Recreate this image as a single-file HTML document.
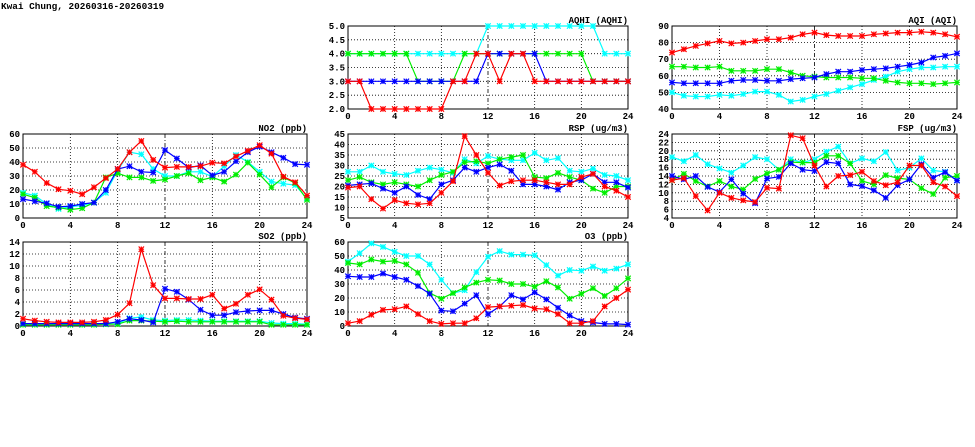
<!DOCTYPE html>
<html><head><meta charset="utf-8"><style>
html,body{margin:0;padding:0;background:#fff;}
svg{display:block;}
text{font-family:"Liberation Mono",monospace;font-weight:bold;font-size:9px;fill:#000;}
</style></head><body>
<svg id="chart" width="975" height="447" viewBox="0 0 975 447" xmlns="http://www.w3.org/2000/svg">
<text x="1" y="9" style="font-size:9.4px">Kwai Chung, 20260316-20260319</text>
</svg>
<script>
const hours = [0,1,2,3,4,5,6,7,8,9,10,11,12,13,14,15,16,17,18,19,20,21,22,23,24];
const xTickLabels = ["0","4","8","12","16","20","24"];

const aqhiRed   = [3,3,2,2,2,2,2,2,2,3,3,4,4,3,4,4,3,3,3,3,3,3,3,3,3];
const aqhiBlue  = [3,3,3,3,3,3,3,3,3,3,3,3,4,4,4,4,4,3,3,3,3,3,3,3,3];
const aqhiGreen = [4,4,4,4,4,4,3,3,3,3,4,4,4,4,4,4,4,4,4,4,4,3,3,3,3];
const aqhiCyan  = [4,4,4,4,4,4,4,4,4,4,4,4,5,5,5,5,5,5,5,5,5,5,4,4,4];
const aqhiTicks = ["2.0","2.5","3.0","3.5","4.0","4.5","5.0"];

const aqiRed   = [74,76,78,79.5,81,79.5,80,81,82,82,83,85,86,84.5,84,84,84,85,85.5,86,86,86.5,86,85,83.5];
const aqiGreen = [65.5,65.5,65,65,65.5,63,63,63,64,64,62,60,59.5,59,59,59,58.5,58.5,57,56,55.5,55.5,55,55.5,56];
const aqiBlue  = [56,55.5,55.5,55.5,55.5,57,57.5,57.5,57,57,58,58.5,59,61,62.5,62.5,63.5,64,64.5,65.5,66.5,68,71,72,73.5];
const aqiCyan  = [50,48,47.5,47.5,48.5,48,49,50.5,50.5,48.5,44.5,45.5,47.5,49,51,53,55,57.5,59.5,62.5,64,65,65,65.5,65.5];
const aqiTicks = ["40","50","60","70","80","90"];

const no2Red   = [38,33,25,20.5,19.5,17,22,28.5,35,47,55,41.5,36,36.5,36.5,37,39.5,39,44,48,52,46,29.5,25.5,16];
const no2Cyan  = [18,16,10,6.5,8,9,11,18,34,47,45.5,35,30,30,33,33,29.5,37,45,40,33,26,24.5,23.5,14];
const no2Blue  = [13.5,12,10.5,8,8.5,10,11,20,35,37,33,32.5,48.5,42.5,36,37.5,30.5,33,40.5,47,51,47,43,38.5,38];
const no2Green = [17,14.5,8.5,7.5,6,7,11,29,32,29,29,26.5,27.5,30,32,27,29,26,31,39.5,31,22,29,25,13];
const no2Ticks = ["0","10","20","30","40","50","60"];

const rspRed   = [19.5,20,14,9.5,13.5,12,11.5,12,17,22.5,44,35,26.5,20.5,22.5,23,23,22,21,21,24.5,26,20,18,15];
const rspCyan  = [27,27,30,27,26,25.5,27.5,29,28,26.5,33,31,34.5,33,32.5,32.5,36,32.5,33.5,27.5,27,28.5,25.5,25,23];
const rspGreen = [23,24.5,22,21,22,21,20,23,25.5,27,31.5,32,31,33,34,35,24.5,24,26.5,24.5,23,19,17,20,20];
const rspBlue  = [20.5,21,21.5,19,17,20,16,14,21,23,29,27,29,30.5,27.5,21,21,20,18.5,22,23,26,22,22,19.5];
const rspTicks = ["5","10","15","20","25","30","35","40","45"];

const fspRed   = [13,13.5,9.2,5.8,10,8.8,8.2,7.8,11.2,11,23.7,23,16.5,11.5,14,14.2,15,12.8,11.8,12.5,16.5,16.5,12.5,11.5,9.2];
const fspCyan  = [18.5,17.5,19,16.8,15.8,14.8,16.5,18.5,18,15.5,18,17.2,18,19.8,21,17,18.2,17.5,19.7,15.3,16,18.2,15.3,15,13];
const fspGreen = [13,14.5,12.8,11.5,12.8,11.5,10.8,13.3,14.6,15.5,17.3,17.2,17.2,18.8,18.8,17,12.8,12,14.2,13.5,13.2,11.1,9.7,13.6,14];
const fspBlue  = [14,13.2,14,11.4,10.2,13.2,9.8,7.5,13.4,13.8,17,15.5,15.2,17.3,17,12,11.6,10.6,8.8,11.8,13.2,16.8,13.6,14.9,12.9];
const fspTicks = ["4","6","8","10","12","14","16","18","20","22","24"];

const so2Red   = [1.2,0.9,0.7,0.6,0.6,0.6,0.7,1,1.9,3.8,12.8,6.8,4.6,4.6,4.5,4.5,5.2,2.9,3.7,5.2,6.1,4.4,1.7,1.3,1.1];
const so2Blue  = [0.4,0.4,0.4,0.4,0.4,0.4,0.4,0.4,0.7,1.2,1.0,0.6,6.2,5.7,4.4,2.7,1.8,1.8,2.3,2.5,2.6,2.6,2.0,1.4,1.2];
const so2Cyan  = [0.3,0.3,0.3,0.3,0.3,0.3,0.3,0.3,0.4,1.3,1.5,1.0,0.9,1.0,1.0,0.9,0.8,0.8,0.8,0.8,0.8,0.5,0.4,0.4,0.3];
const so2Green = [0.2,0.2,0.2,0.2,0.2,0.2,0.2,0.3,0.3,0.9,0.9,0.8,0.7,0.8,0.7,0.7,0.7,0.7,0.7,0.7,0.7,0.2,0.2,0.2,0.2];
const so2Ticks = ["0","2","4","6","8","10","12","14"];

const o3Cyan  = [46,52,59,56.5,53,50,50,44,33,23.5,25.5,38.5,49.5,53.5,51,51,50.5,43.5,36,40,39.5,42.5,39.5,41,44];
const o3Green = [45,44,47.5,46,46.5,44,38,23.5,19.5,23.5,27.5,31,33,32.5,30,30,28,32,27.5,19.5,23,27,21.5,27,34];
const o3Blue  = [35.5,35,35,37.5,35,33,28.5,23,11,10.5,16,22,8.5,14,22,19,24,19,13,7.5,3.5,2.5,1.5,1.5,1];
const o3Red   = [2,3.5,8,11.5,12,14,8.5,3.5,1.5,2,2,5.5,13.5,14,14.5,15,12.5,12,8.5,2,2,3.5,14,20,26];
const o3Ticks = ["0","10","20","30","40","50","60"];

const svg = document.getElementById('chart');
const NS = 'http://www.w3.org/2000/svg';
function mk(tag, attrs, parent){
  const e = document.createElementNS(NS, tag);
  for (const k in attrs) e.setAttribute(k, attrs[k]);
  (parent||svg).appendChild(e);
  return e;
}
const COL = {red:'#ff0000', green:'#00ee00', blue:'#0000ff', cyan:'#00ffff'};

function panel(key, title, box, yTicks, series){
  const g = mk('g', {});
  
  
  const ymin = parseFloat(yTicks[0]), ymax = parseFloat(yTicks[yTicks.length-1]);
  const xs = h => box.x0 + (box.x1 - box.x0) * h / 24;
  const ys = v => box.y1 - (box.y1 - box.y0) * (v - ymin) / (ymax - ymin);
  yTicks.forEach(t => {
    const y = ys(parseFloat(t));
    if (y > box.y0 + 0.5 && y < box.y1 - 0.5) {
      const l = mk('line', {x1:box.x0, x2:box.x1, y1:y, y2:y, stroke:'#000', 'stroke-width':0.8, 'stroke-dasharray':'1,2'}, g);
      
      
    }
    const tx = mk('text', {x:box.x0 - 3, y:y + 3, 'text-anchor':'end'}, g);
    tx.textContent = t;
    
    
  });
  xTickLabels.forEach(t => {
    const x = xs(parseFloat(t));
    if (x > box.x0 + 0.5 && x < box.x1 - 0.5) {
      const l = mk('line', {x1:x, x2:x, y1:box.y0, y2:box.y1, stroke:'#000', 'stroke-width':0.8, 'stroke-dasharray': t === '12' ? '4,2,1,2' : '1,2'}, g);
      
      
    }
    const tx = mk('text', {x:x, y:box.y1 + 10, 'text-anchor':'middle'}, g);
    tx.textContent = t;
    
    
  });
  const frame = mk('rect', {x:box.x0, y:box.y0, width:box.x1-box.x0, height:box.y1-box.y0, fill:'none', stroke:'#000', 'stroke-width':1}, g);
  
  
  const tt = mk('text', {x:box.x1, y:box.y0 - 3, 'text-anchor':'end'}, g);
  tt.textContent = title;
  
  
  const clipId = 'clip-' + key;
  const cp = mk('clipPath', {id:clipId}, g);
  mk('rect', {x:box.x0 - 4, y:box.y0 - 4, width:box.x1-box.x0 + 8, height:box.y1-box.y0 + 8}, cp);
  series.forEach(s => {
    const sg = mk('g', {'clip-path':'url(#' + clipId + ')'}, g);
    
    
    const pts = s.d.map((v,i) => xs(hours[i]).toFixed(1) + ',' + ys(v).toFixed(1)).join(' ');
    const pl = mk('polyline', {points:pts, fill:'none', stroke:COL[s.c], 'stroke-width':1.2}, sg);
    
    
    s.d.forEach((v,i) => {
      const x = xs(hours[i]), y = ys(v), r = 2.7;
      const m = mk('path', {d:`M${x-r},${y}H${x+r}M${x},${y-r}V${y+r}M${x-r},${y-r}L${x+r},${y+r}M${x-r},${y+r}L${x+r},${y-r}`, stroke:COL[s.c], 'stroke-width':1.2, fill:'none'}, sg);
      
      
    });
  });
}

const L = {x0:23, x1:307}, M = {x0:348, x1:628}, R = {x0:672, x1:957};
const T = {y0:26, y1:109}, Mi = {y0:134, y1:218}, B = {y0:242, y1:326};
panel('aqhi', 'AQHI (AQHI)', {...M, ...T}, aqhiTicks, [{c:'cyan',d:aqhiCyan},{c:'green',d:aqhiGreen},{c:'blue',d:aqhiBlue},{c:'red',d:aqhiRed}]);
panel('aqi', 'AQI (AQI)', {...R, ...T}, aqiTicks, [{c:'cyan',d:aqiCyan},{c:'green',d:aqiGreen},{c:'blue',d:aqiBlue},{c:'red',d:aqiRed}]);
panel('no2', 'NO2 (ppb)', {...L, ...Mi}, no2Ticks, [{c:'cyan',d:no2Cyan},{c:'green',d:no2Green},{c:'blue',d:no2Blue},{c:'red',d:no2Red}]);
panel('rsp', 'RSP (ug/m3)', {...M, ...Mi}, rspTicks, [{c:'cyan',d:rspCyan},{c:'green',d:rspGreen},{c:'blue',d:rspBlue},{c:'red',d:rspRed}]);
panel('fsp', 'FSP (ug/m3)', {...R, ...Mi}, fspTicks, [{c:'cyan',d:fspCyan},{c:'green',d:fspGreen},{c:'blue',d:fspBlue},{c:'red',d:fspRed}]);
panel('so2', 'SO2 (ppb)', {...L, ...B}, so2Ticks, [{c:'cyan',d:so2Cyan},{c:'green',d:so2Green},{c:'blue',d:so2Blue},{c:'red',d:so2Red}]);
panel('o3', 'O3 (ppb)', {...M, ...B}, o3Ticks, [{c:'cyan',d:o3Cyan},{c:'green',d:o3Green},{c:'blue',d:o3Blue},{c:'red',d:o3Red}]);
</script>
</body></html>
